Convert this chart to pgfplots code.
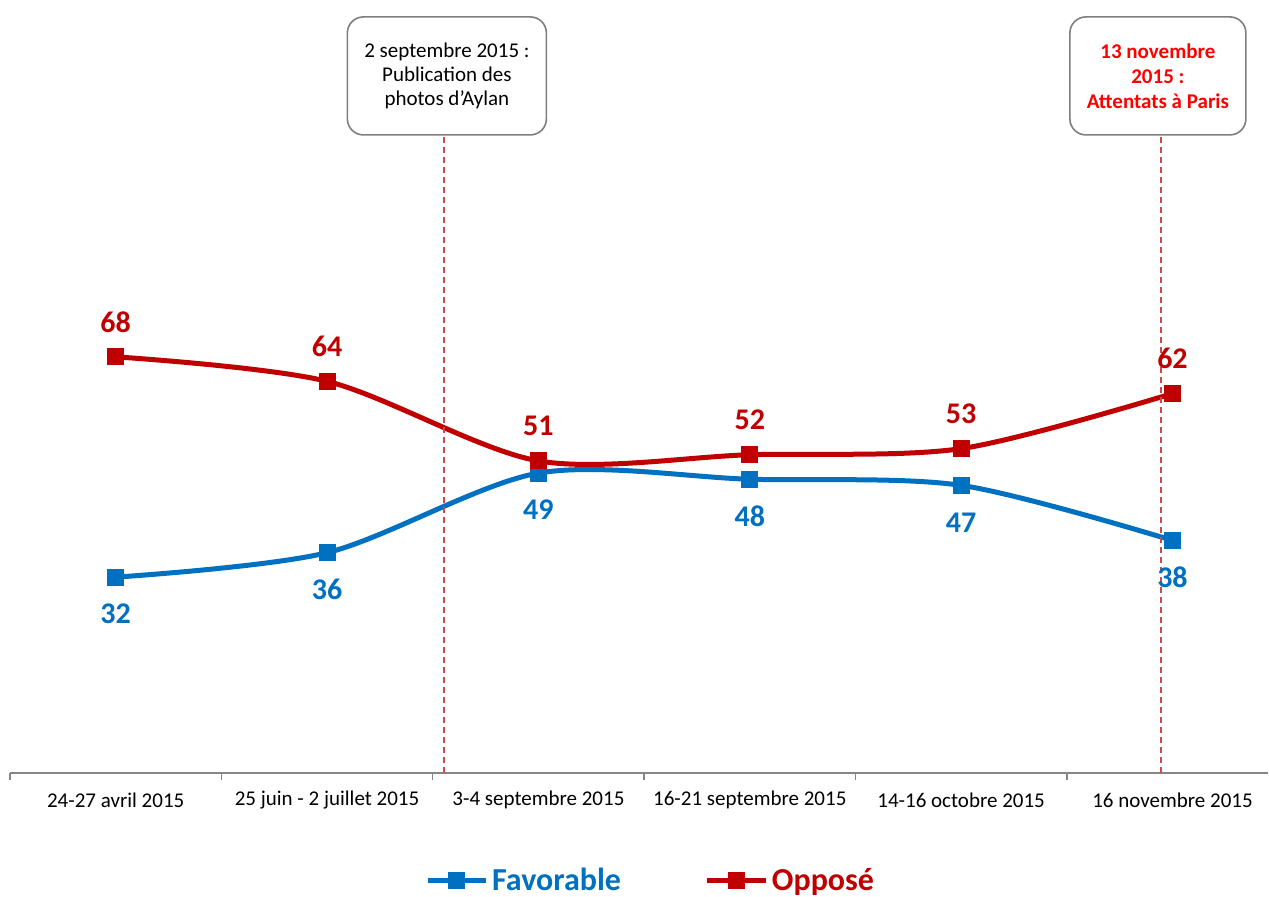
\documentclass[border=0pt]{standalone}
\usepackage{pgfplots}
\pgfplotsset{compat=1.18}
\usepackage{fontspec}
\setmainfont{Carlito}

\definecolor{favblue}{HTML}{0070C0}
\definecolor{oppred}{HTML}{C00000}
\definecolor{axgray}{HTML}{868686}
\definecolor{boxgray}{HTML}{7F7F7F}
\definecolor{dashred}{HTML}{D04848}

\begin{document}
\begin{tikzpicture}
\path[use as bounding box] (-5pt,-62pt) rectangle (629.5pt,386.5pt);
\begin{axis}[
  at={(0,0)}, anchor=south west,
  scale only axis,
  width=629pt, height=306pt,
  xmin=-0.5, xmax=5.452,
  ymin=0, ymax=100,
  clip=false,
  axis y line=none,
  axis x line=bottom,
  x axis line style={-, axgray, line width=1pt},
  xtick={0,...,5},
  xticklabels={24-27 avril 2015, 25 juin - 2 juillet 2015, 3-4 septembre 2015, 16-21 septembre 2015, 14-16 octobre 2015, 16 novembre 2015},
  xticklabel style={font=\fontsize{10.5}{12}\selectfont, anchor=center, yshift=-13.5pt},
  major tick length=0pt,
  minor xtick={-0.5,0.5,1.5,2.5,3.5,4.5},
  minor tick length=3.5pt,
  tick align=outside,
  minor tick style={axgray, line width=0.75pt},
  /pgf/number format/assume math mode=true,
  nodes near coords,
  legend columns=2,
  legend style={at={(0.51,-54pt)}, anchor=center, draw=none, fill=none,
    font=\fontsize{16}{18}\selectfont\bfseries,
    /tikz/every even column/.append style={column sep=40pt},
    nodes={inner xsep=2pt, inner ysep=0pt}},
  legend image code/.code={\draw[mark repeat=2, mark phase=2, #1] plot coordinates {(0pt,0pt) (14.5pt,0pt) (29pt,0pt)};},
]
% Favorable
\addplot[favblue, line width=2.5pt, smooth, mark=square*, mark size=3pt,
  mark options={solid},
  every node near coord/.append style={font=\fontsize{15}{18}\selectfont\bfseries, text=favblue, anchor=center, yshift=-18.5pt}]
  coordinates {(0,32) (1,36) (2,49) (3,48) (4,47) (5,38)};
\addlegendentry{\textcolor{favblue}{Favorable}}
% Opposé
\addplot[oppred, line width=2.5pt, smooth, mark=square*, mark size=3pt,
  mark options={solid},
  every node near coord/.append style={font=\fontsize{15}{18}\selectfont\bfseries, text=oppred, anchor=center, yshift=17.5pt}]
  coordinates {(0,68) (1,64) (2,51) (3,52) (4,53) (5,62)};
\addlegendentry{\textcolor{oppred}{Opposé}}

\draw[dashred, line width=1pt, dash pattern=on 3pt off 2pt] (axis cs:1.554,0) -- (axis cs:1.554,104.3);
\draw[dashred, line width=1pt, dash pattern=on 3pt off 2pt] (axis cs:4.946,0) -- (axis cs:4.946,104.3);

\node[draw=boxgray, line width=0.8pt, rounded corners=8pt, fill=white,
  minimum width=99.5pt, minimum height=59pt, align=center,
  font=\fontsize{10.5}{12}\selectfont]
  at (axis cs:1.567,113.9) {2 septembre 2015 :\\Publication des\\photos d’Aylan};
\node[draw=boxgray, line width=0.8pt, rounded corners=8pt, fill=white,
  minimum width=88pt, minimum height=59pt, align=center,
  font=\fontsize{10.5}{12.5}\selectfont\bfseries, text={rgb,255:red,255;green,0;blue,0}]
  at (axis cs:4.931,113.9) {13 novembre\\2015 :\\Attentats à Paris};
\end{axis}
\end{tikzpicture}
\end{document}
